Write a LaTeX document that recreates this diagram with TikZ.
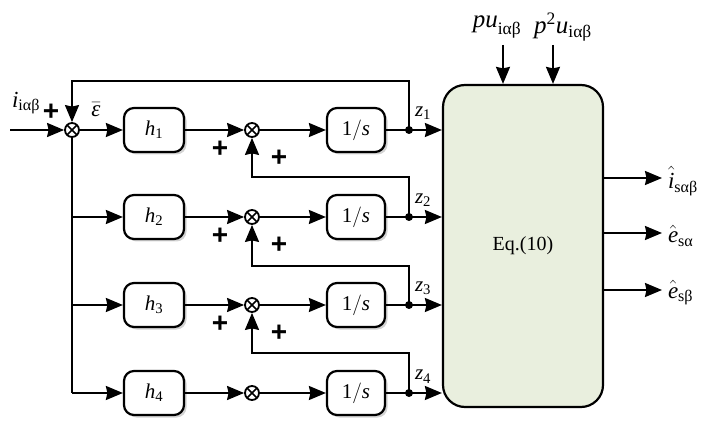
\documentclass[tikz,border=0pt]{standalone}
\usepackage{amsmath}
\usepackage{fontspec}
\setmainfont{Liberation Serif}
\newfontfamily\plusfont{Liberation Sans}
\usetikzlibrary{arrows.meta,shadows,calc}
\definecolor{boxgreen}{RGB}{233,239,222}
\newcommand{\sub}[1]{\text{\normalfont #1}}
\newcommand{\vi}[1]{\text{\itshape #1}}
\begin{document}
\begin{tikzpicture}[x=1pt,y=-1pt,
  line width=2pt,
  arr/.style={-{Stealth[length=17pt,width=14pt,inset=1.5pt]}},
  blk/.style={draw,line width=2.2pt,rounded corners=10pt,fill=white,minimum width=60pt,minimum height=44pt,
    drop shadow={shadow xshift=2.5pt,shadow yshift=-2.5pt,opacity=0.35},font=\fontsize{21}{24}\selectfont},
  mult/.style={draw,circle,line width=1.8pt,minimum size=14pt,inner sep=0pt,fill=white,
    path picture={\draw[line width=1.5pt] (path picture bounding box.north west)--(path picture bounding box.south east)
      (path picture bounding box.north east)--(path picture bounding box.south west);}},
  dotn/.style={circle,fill,inner sep=0pt,minimum size=8pt},
  lbl/.style={font=\fontsize{21}{24}\selectfont,inner sep=0pt},
  plus/.style={font=\plusfont\bfseries\fontsize{28}{30}\selectfont,inner sep=0pt}]
\useasboundingbox (0,0) rectangle (706,435);

% main block
\node[draw,line width=2.2pt,rounded corners=22pt,fill=boxgreen,minimum width=160pt,minimum height=322pt,
  font=\fontsize{20}{22}\selectfont] (main) at (523,246) {Eq.(10)};

% summing junction
\node[mult] (S0) at (72,130) {};
\coordinate (in) at (10,130);
\draw[arr] (in) -- (S0);

\foreach \k/\y in {1/130,2/217,3/305,4/393}{
  \node[blk] (h\k) at (154,\y) {$\vi{h}_{\sub{\k}}$};
  \node[mult] (M\k) at (252,\y) {};
  \node[blk,minimum width=58pt] (I\k) at (356,\y) {$\sub{1}/\vi{s}$};
  \node[dotn] (D\k) at (409,\y) {};
  \coordinate (b\k) at (72,\y);
  \draw[arr] (h\k) -- (M\k);
  \draw[arr] (M\k) -- (I\k);
  \draw (I\k) -- (D\k.center);
  \draw[arr] (D\k.center) -- (main.west |- D\k);
  \node[lbl,anchor=south west] at ($(D\k)+(5,-9)$) {$\vi{z}_{\sub{\k}}$};
}
\draw[arr] (S0) -- (h1);
\draw (S0) -- (b4);
\foreach \k in {2,3,4}{ \draw[arr] (b\k) -- (h\k); }

% feedbacks
\coordinate (t1) at (409,81);
\draw[arr] (D1.center) -- (t1) -| (S0);
\coordinate (t2) at (409,177);
\coordinate (t3) at (409,266);
\coordinate (t4) at (409,353);
\draw[arr] (D2.center) -- (t2) -| (M1);
\draw[arr] (D3.center) -- (t3) -| (M2);
\draw[arr] (D4.center) -- (t4) -| (M3);

% plus signs
\node[plus] at (51,112) {+};
\foreach \y in {130,217,305}{
  \node[plus] at (220,\y+19) {+};
  \node[plus] at (279,\y+28) {+};
}

% labels
\node[lbl,font=\fontsize{23}{26}\selectfont] at (26,103) {$\vi{i}_{\sub{iαβ}}$};
\node[lbl,font=\fontsize{23}{26}\selectfont] at (96,110) {$\bar{\vi{ε}}$};

% top inputs
\coordinate (u1) at (503,45);
\coordinate (u2) at (553,45);
\draw[arr] (u1) -- (u1 |- main.north);
\draw[arr] (u2) -- (u2 |- main.north);
\node[lbl,font=\fontsize{25}{28}\selectfont] at (497,27) {$\vi{pu}_{\sub{iαβ}}$};
\node[lbl,font=\fontsize{25}{28}\selectfont] at (563,27) {$\vi{p}^{\sub{2}}\vi{u}_{\sub{iαβ}}$};

% outputs
\foreach \n/\y/\t in {o1/178/{$\hat{\vi{i}}_{\sub{sαβ}}$},o2/233/{$\hat{\vi{e}}_{\sub{sα}}$},o3/290/{$\hat{\vi{e}}_{\sub{sβ}}$}}{
  \coordinate (\n s) at (603,\y);
  \coordinate (\n) at (662,\y);
  \draw[arr] (\n s) -- (\n);
  \node[lbl,font=\fontsize{23}{26}\selectfont,anchor=west] at (667,\y+3) {\t};
}
\end{tikzpicture}
\end{document}
